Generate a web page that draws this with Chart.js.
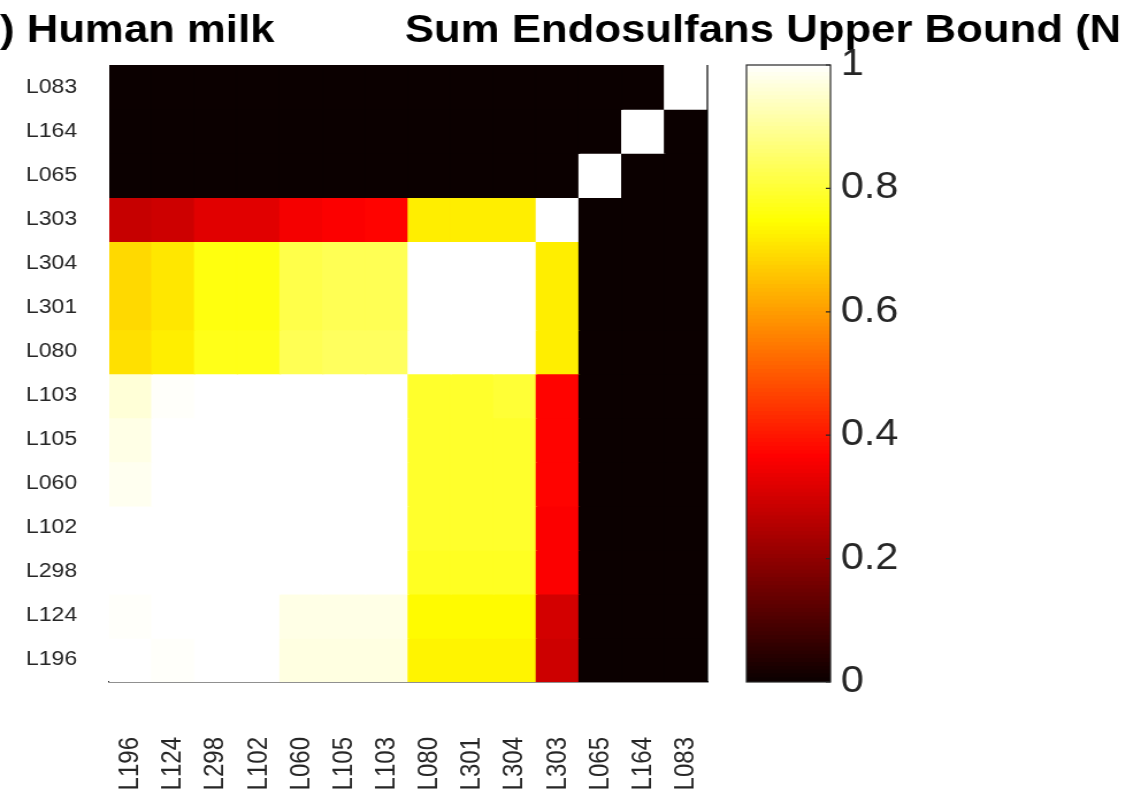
<!DOCTYPE html>
<html><head><meta charset="utf-8">
<script src="https://cdn.jsdelivr.net/npm/chart.js@4.4.0/dist/chart.umd.min.js"></script>
<style>
html,body{margin:0;padding:0;background:#fff;overflow:hidden}
#wrap{position:relative;width:1141px;height:798px;background:#fff}
canvas{position:absolute;left:0;top:0}
</style></head><body>
<div id="wrap">
<canvas id="heat" width="992" height="798" style="width:1141px;height:798px"></canvas>
<canvas id="cbar" width="992" height="798" style="width:1141px;height:798px"></canvas>
</div>
<script>
// ---- data ----
const titleLeft = ') Human milk';
const titleRight = 'Sum Endosulfans Upper Bound (N';
const xLabels = ['L196','L124','L298','L102','L060','L105','L103','L080','L301','L304','L303','L065','L164','L083'];
const yLabels = ['L083','L164','L065','L303','L304','L301','L080','L103','L105','L060','L102','L298','L124','L196'];
// each row: values for columns in xLabels order
const rowL083 = [0,0,0,0,0,0,0,0,0,0,0,0,0,1.00];
const rowL164 = [0,0,0,0,0,0,0,0,0,0,0,0,1.00,0];
const rowL065 = [0,0,0,0,0,0,0,0,0,0,0,1.00,0,0];
const rowL303 = [0.28,0.29,0.32,0.32,0.35,0.36,0.37,0.72,0.72,0.72,1.00,0,0,0];
const rowL304 = [0.69,0.71,0.76,0.76,0.82,0.83,0.83,1.00,1.00,1.00,0.72,0,0,0];
const rowL301 = [0.69,0.71,0.76,0.76,0.82,0.83,0.83,1.00,1.00,1.00,0.72,0,0,0];
const rowL080 = [0.70,0.72,0.77,0.77,0.83,0.84,0.84,1.00,1.00,1.00,0.72,0,0,0];
const rowL103 = [0.96,0.995,1.00,1.00,1.00,1.00,1.00,0.79,0.79,0.80,0.37,0,0,0];
const rowL105 = [0.975,1.00,1.00,1.00,1.00,1.00,1.00,0.79,0.79,0.79,0.37,0,0,0];
const rowL060 = [0.985,1.00,1.00,1.00,1.00,1.00,1.00,0.79,0.79,0.79,0.37,0,0,0];
const rowL102 = [1.00,1.00,1.00,1.00,1.00,1.00,1.00,0.79,0.79,0.79,0.36,0,0,0];
const rowL298 = [1.00,1.00,1.00,1.00,1.00,1.00,1.00,0.78,0.78,0.78,0.36,0,0,0];
const rowL124 = [0.995,1.00,1.00,1.00,0.975,0.975,0.975,0.74,0.74,0.74,0.30,0,0,0];
const rowL196 = [1.00,0.995,1.00,1.00,0.97,0.97,0.97,0.73,0.73,0.73,0.29,0,0,0];
const rows = [rowL083,rowL164,rowL065,rowL303,rowL304,rowL301,rowL080,rowL103,rowL105,rowL060,rowL102,rowL298,rowL124,rowL196];
const cbarTicks = [0,0.2,0.4,0.6,0.8,1];
const cbarLevels = 160;

// MATLAB-like "hot" colormap (continuous form of hot(64))
function hot(v){
  const t = v * 63 + 1;
  const cl = x => Math.min(1, Math.max(0, x));
  const r = cl(t / 24), g = cl((t - 24) / 24), b = cl((t - 48) / 16);
  return `rgb(${Math.round(r*255)},${Math.round(g*255)},${Math.round(b*255)})`;
}

Chart.defaults.font.family = '"Liberation Sans", Arial, Helvetica, sans-serif';
Chart.defaults.animation = false;

const titlePlugin = {
  id: 'titles',
  afterDraw(chart){
    const ctx = chart.ctx;
    ctx.save();
    ctx.fillStyle = '#000';
    ctx.font = 'bold 38px "Liberation Sans", Arial, sans-serif';
    ctx.textBaseline = 'alphabetic';
    ctx.textAlign = 'left';
    ctx.fillText(titleLeft, 0, 42);
    ctx.fillText(titleRight, 352, 42);
    // right frame edge
    const a = chart.chartArea;
    ctx.strokeStyle = '#000';
    ctx.lineWidth = 1.2;
    ctx.beginPath();
    ctx.moveTo(a.right, a.top);
    ctx.lineTo(a.right, a.bottom);
    ctx.stroke();
    ctx.restore();
  }
};

const heatDatasets = rows.map((row, r) => ({
  label: yLabels[r],
  data: row.map((v, c) => ({x: xLabels[c], y: 1, v: v})),
  backgroundColor: ctx => hot(ctx.raw.v),
  borderWidth: 0,
  inflateAmount: 0.7,
  barPercentage: 1,
  categoryPercentage: 1,
  stack: 'grid'
}));

new Chart(document.getElementById('heat'), {
  type: 'bar',
  data: { labels: xLabels, datasets: heatDatasets },
  options: {
    responsive: false,
    maintainAspectRatio: false,
    devicePixelRatio: 1,
    layout: { padding: { left: 0, right: 377, top: 65, bottom: 0 } },
    plugins: { legend: {display:false}, tooltip: {enabled:false}, title: {display:false} },
    scales: {
      x: {
        type: 'category', stacked: true,
        grid: { display: false, drawTicks: false },
        border: { display: true, color: '#222', width: 1.5 },
        ticks: { minRotation: 90, maxRotation: 90, autoSkip: false, color: '#262626', font: { size: 24 }, padding: 55 },
        afterFit(scale){ scale.height = 116; }
      },
      y: {
        type: 'linear', stacked: true, reverse: true, min: 0, max: 14,
        grid: { display: false, drawTicks: false },
        border: { display: false },
        afterBuildTicks(scale){ scale.ticks = yLabels.map((_, i) => ({ value: i + 0.5 })); },
        ticks: { autoSkip: false, color: '#262626', font: { size: 20 }, padding: 28,
          callback: v => yLabels[Math.floor(v)] },
        afterFit(scale){ scale.width = 95; }
      }
    }
  },
  plugins: [titlePlugin]
});

// colorbar
const cbarDatasets = [];
for (let k = 0; k < cbarLevels; k++) {
  cbarDatasets.push({
    data: [[k / cbarLevels, (k + 1) / cbarLevels]],
    backgroundColor: hot((k + 0.5) / cbarLevels),
    borderWidth: 0,
    inflateAmount: 0.7,
    barPercentage: 1,
    categoryPercentage: 1,
    grouped: false
  });
}
const framePlugin = {
  id: 'frame',
  afterDraw(chart){
    const a = chart.chartArea, ctx = chart.ctx;
    ctx.save();
    ctx.strokeStyle = '#262626';
    ctx.lineWidth = 1.2;
    ctx.strokeRect(a.left, a.top, a.right - a.left, a.bottom - a.top);
    const ys = chart.scales.y;
    ctx.beginPath();
    cbarTicks.forEach(t => {
      const py = ys.getPixelForValue(t);
      ctx.moveTo(a.right, py); ctx.lineTo(a.right - 4, py);
    });
    ctx.stroke();
    ctx.restore();
  }
};
new Chart(document.getElementById('cbar'), {
  type: 'bar',
  data: { labels: ['c'], datasets: cbarDatasets },
  options: {
    responsive: false,
    maintainAspectRatio: false,
    devicePixelRatio: 1,
    layout: { padding: { left: 649, right: 0, top: 65, bottom: 116 } },
    plugins: { legend: {display:false}, tooltip: {enabled:false} },
    scales: {
      x: { display: false },
      y: {
        position: 'right', min: 0, max: 1,
        grid: { display: false, drawTicks: false },
        border: { display: false },
        afterBuildTicks(scale){ scale.ticks = cbarTicks.map(v => ({ value: v })); },
        ticks: { color: '#262626', font: { size: 36 }, padding: 9,
          callback: v => String(Math.round(v * 10) / 10) },
        afterFit(scale){ scale.width = 270; }
      }
    }
  },
  plugins: [framePlugin]
});
</script>
</body></html>
